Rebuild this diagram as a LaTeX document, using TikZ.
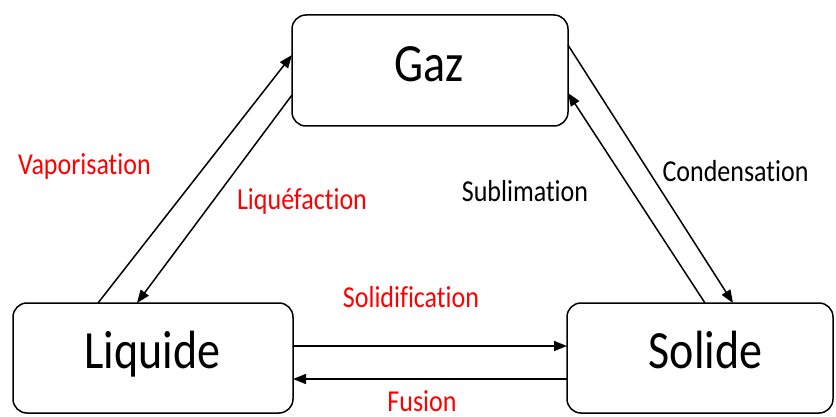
\documentclass[tikz,border=0pt]{standalone}
\usepackage{fontspec}
\usepackage{graphicx}
\setmainfont{Carlito}[RawFeature=-liga]
\usetikzlibrary{arrows.meta}
\newcommand{\vstr}[1]{\scalebox{1}[1.17]{#1}}
\definecolor{labred}{HTML}{FF0000}
\tikzset{
  statebox/.style={draw=black, line width=1.5pt, rounded corners=14pt, inner sep=0pt, outer sep=0pt},
  bigtext/.style={anchor=base, inner sep=0pt, font=\fontsize{46}{50}\selectfont},
  redlab/.style={anchor=base, inner sep=0pt, text=labred, font=\fontsize{26}{30}\selectfont},
  blacklab/.style={anchor=base, inner sep=0pt, text=black, font=\fontsize{26}{30}\selectfont},
  conn/.style={line width=1.5pt, -{Triangle[length=13pt,width=10pt]}},
}
\begin{document}
\begin{tikzpicture}[x=1pt,y=-1pt]
\useasboundingbox (0,0) rectangle (836,417);
% boxes
\node[statebox, minimum width=276pt, minimum height=111pt] (gaz) at (430,70.5) {};
\node[statebox, minimum width=280pt, minimum height=110pt] (liq) at (153,358) {};
\node[statebox, minimum width=266pt, minimum height=110pt] (sol) at (700,358) {};
% box texts
\node[bigtext] (tgaz) at (429,82) {\vstr{Gaz}};
\node[bigtext] (tliq) at (152.5,368) {\vstr{Liquide}};
\node[bigtext] (tsol) at (705.5,368) {\vstr{Solide}};
% connectors
\draw[conn] ([xshift=85pt]liq.north west) -- ([yshift=-40pt]gaz.north west);
\draw[conn] ([yshift=-80pt]gaz.north west) -- ([xshift=124pt]liq.north west);
\draw[conn] ([yshift=-30pt]gaz.north east) -- ([xshift=166pt]sol.north west);
\draw[conn] ([xshift=138pt]sol.north west) -- ([yshift=-78pt]gaz.north east);
\draw[conn] ([yshift=-43pt]liq.north east) -- ([yshift=-43pt]sol.north west);
\draw[conn] ([yshift=-76pt]sol.north west) -- ([yshift=-76pt]liq.north east);
% labels
\node[redlab] (lvap) at (84.5,175) {\vstr{Vaporisation}};
\node[redlab] (lliq) at (302,209) {\vstr{Liquéfaction}};
\node[blacklab] (lsub) at (525,201) {\vstr{Sublimation}};
\node[blacklab] (lcon) at (735.5,182) {\vstr{Condensation}};
\node[redlab] (lsol) at (411,307) {\vstr{Solidification}};
\node[redlab] (lfus) at (422,411) {\vstr{Fusion}};
\end{tikzpicture}
\end{document}
